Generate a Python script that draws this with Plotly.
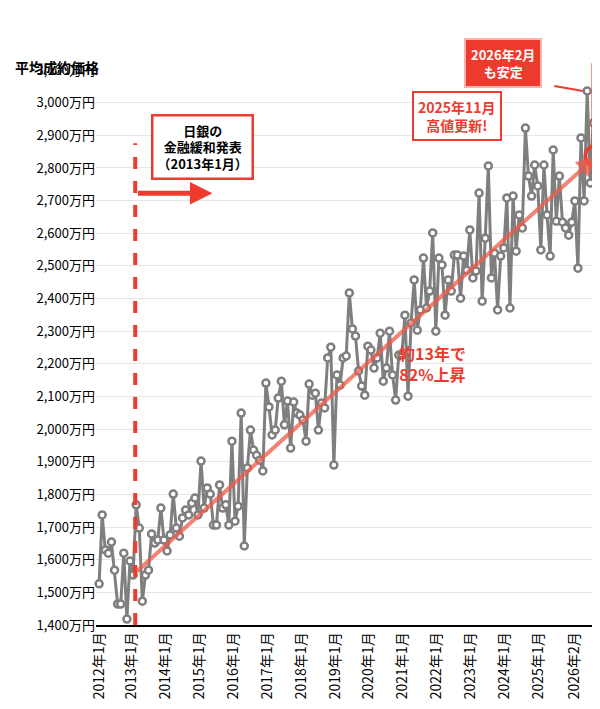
import plotly.graph_objects as go

prices = [1526,1737,1630,1620,1654,1568,1464,1464,1620,1418,1596,1553,1768,1697,1473,1553,1568,1679,1651,1660,
1758,1660,1627,1676,1801,1697,1672,1728,1752,1737,1773,1789,1737,1902,1758,1820,1801,1706,1706,1829,
1758,1768,1706,1963,1718,1764,2049,1642,1881,1997,1936,1920,1905,1872,
2141,2068,1982,1997,2095,2147,2013,2086,1942,2083,2049,2043,2028,1963,2138,2104,2110,1997,2080,2065,
2218,2251,1890,2166,2135,2218,2224,2417,2307,2285,2178,2132,2104,2254,2242,2187,2218,2294,2147,2187,
2300,2166,2089,2227,2227,2349,2101,2325,2457,2303,2365,
2524,2371,2423,2601,2300,2524,2503,2349,2457,2423,2533,2533,2401,2530,2487,2610,2463,2484,2723,2392,
2585,2806,2463,2539,2365,2530,2555,2708,2371,2714,2545,2656,2616,2922,2775,2714,2809,2745,2549,2809,
2656,2530,2855,2637,2775,2634,2616,2594,2634,2699,2493,2892,2699,3036,2754,2938,2836]
idx = list(range(len(prices)))
tick_pos = [0,10.6,21.6,32.5,43.5,54.5,65.4,76.4,87.3,98.3,109.2,120.2,131.2,142.1,153.8]
tick_text = [f"{y}年1月" for y in range(2012,2026)] + ["2026年2月"]
y_vals = list(range(1400,3101,100))
y_text = [f"{v:,}万円" for v in y_vals]
boj_x = 11.7
trend_start, trend_end = 1560, prices[-1]
last = idx[-1]

RED = "#ee3b2e"
F = "Noto Sans CJK JP"
fig = go.Figure(go.Scatter(x=idx, y=prices, mode="lines+markers", cliponaxis=False,
    line=dict(color="#7f7f7f", width=3),
    marker=dict(size=7, color="white", line=dict(color="#7f7f7f", width=2.5))))

fig.update_layout(width=600, height=709, plot_bgcolor="white", paper_bgcolor="white",
    margin=dict(l=88, r=10, t=62, b=92, autoexpand=False), showlegend=False, font=dict(family=F, color="black"),
    xaxis=dict(range=[-1, last+0.5], tickvals=tick_pos, ticktext=tick_text, tickangle=-90, automargin=False,
               showgrid=False, showline=True, linecolor="black", linewidth=1.5, ticks="",
               tickfont=dict(size=14, family=F, color="black"), zeroline=False),
    yaxis=dict(range=[1400,3100], tickvals=y_vals, ticktext=y_text, gridcolor="#e6e6e6", automargin=False,
               tickfont=dict(size=13, family=F, color="black"), zeroline=False, ticks=""))

shapes = [
    dict(type="line", xref="x", yref="paper", x0=boj_x, x1=boj_x, y0=0, y1=0.868,
         line=dict(color=RED, width=4, dash="dash")),
    dict(type="circle", xref="x", yref="y", xsizemode="pixel", ysizemode="pixel",
         xanchor=last, yanchor=trend_end, x0=-11, x1=11, y0=-11, y1=11,
         line=dict(color=RED, width=3.5)),
    dict(type="line", xref="paper", yref="paper", x0=0.99, x1=0.99, y0=1.012, y1=0.87,
         line=dict(color=RED, width=3)),
    dict(type="line", xref="paper", yref="paper", x0=0.913, x1=0.97, y0=0.971, y1=0.962,
         line=dict(color=RED, width=2)),
]
fig.update_layout(shapes=shapes)

ann = [
    dict(x=last, y=trend_end, ax=boj_x, ay=trend_start, xref="x", yref="y", axref="x", ayref="y",
         showarrow=True, arrowhead=2, arrowsize=1, arrowwidth=4, arrowcolor="rgba(240,90,70,0.75)", text=""),
    dict(x=36.7, y=0.778, xref="x", yref="paper", ax=-76, ay=0, showarrow=True, arrowhead=2,
         arrowsize=0.9, arrowwidth=5, arrowcolor=RED, text=""),
    dict(x=0.109, y=0.921, xref="paper", yref="paper", showarrow=False,
         text="<b>日銀の<br>金融緩和発表<br>（2013年1月）</b>", font=dict(size=13, color="black"),
         bgcolor="white", bordercolor=RED, borderwidth=2.5, borderpad=4),
    dict(x=0.808, y=0.962, xref="paper", yref="paper", showarrow=False,
         text="<b>2025年11月<br>高値更新!</b>", font=dict(size=14, color=RED),
         bgcolor="white", bordercolor=RED, borderwidth=2, borderpad=4),
    dict(x=0.889, y=1.058, xref="paper", yref="paper", showarrow=False,
         text="<b>2026年2月<br>も安定</b>", font=dict(size=13, color="white"),
         bgcolor=RED, bordercolor="#f7b5ae", borderwidth=2, borderpad=5),
    dict(x=0.742, y=0.472, xref="paper", yref="paper", showarrow=False,
         text="<b>約13年で<br>82%上昇</b>", font=dict(size=16, color=RED)),
    dict(x=-0.165, y=1.027, xref="paper", yref="paper", xanchor="left", showarrow=False,
         text="<b>平均成約価格</b>", font=dict(size=14, color="black")),
]
fig.update_layout(annotations=ann)
fig.write_html("out.html")
